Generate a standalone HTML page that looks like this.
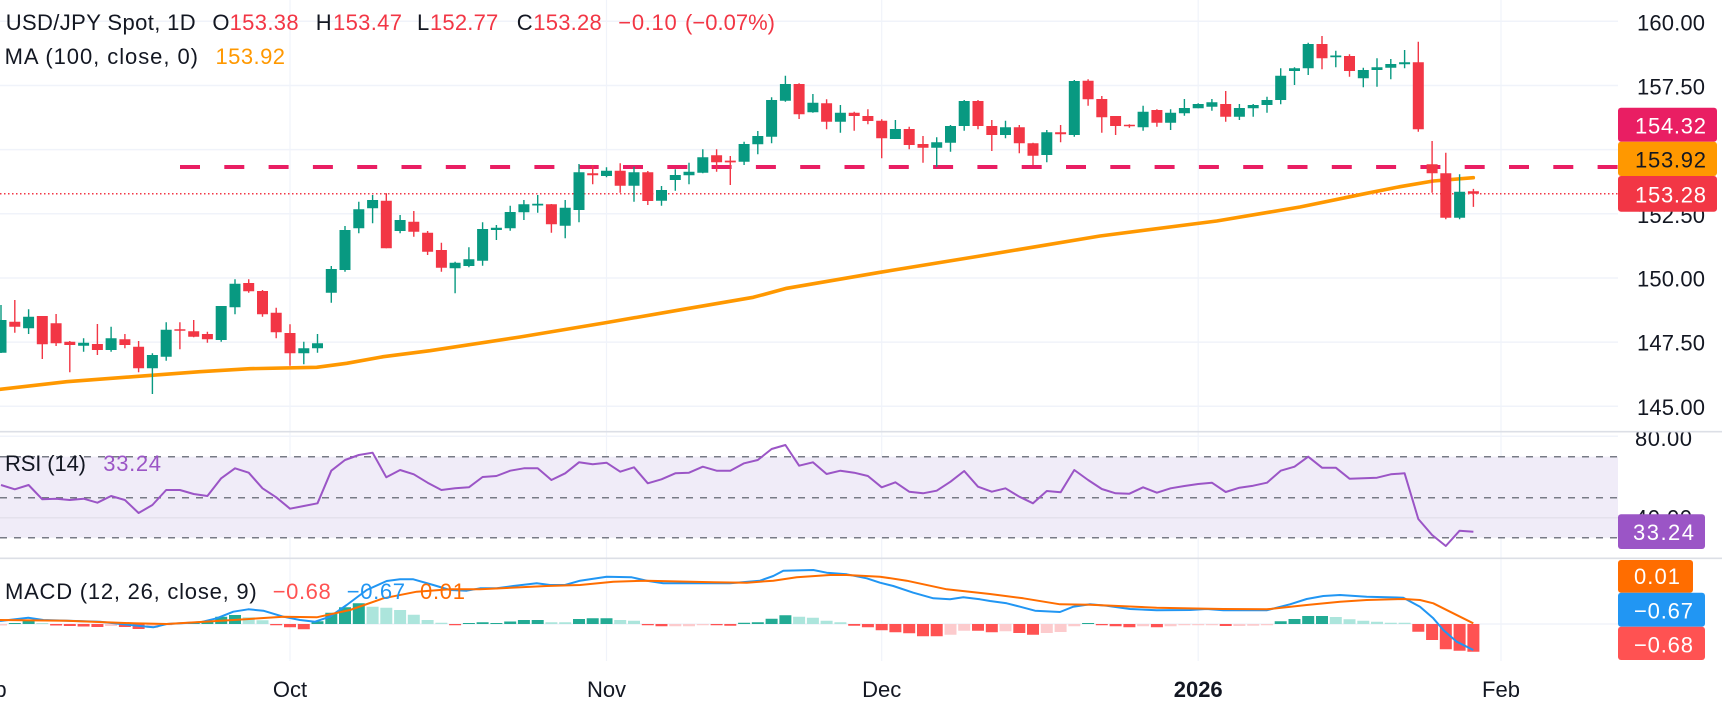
<!DOCTYPE html>
<html><head><meta charset="utf-8"><style>
html,body{margin:0;padding:0;background:#fff;}
svg{display:block;font-family:"Liberation Sans",sans-serif;}
</style></head><body>
<svg width="1722" height="708" viewBox="0 0 1722 708" xmlns="http://www.w3.org/2000/svg">
<defs>
<clipPath id="plot"><rect x="0" y="0" width="1618" height="431"/></clipPath>
<clipPath id="rsiax"><rect x="1618" y="432.5" width="104" height="125"/></clipPath>
</defs>
<rect width="1722" height="708" fill="#fff"/>
<!-- vertical gridlines -->
<g stroke="#f0f3fa" stroke-width="1.2">
<line x1="290" y1="0" x2="290" y2="661"/><line x1="606.5" y1="0" x2="606.5" y2="661"/><line x1="881.7" y1="0" x2="881.7" y2="661"/><line x1="1198.2" y1="0" x2="1198.2" y2="661"/><line x1="1501" y1="0" x2="1501" y2="661"/>
</g>
<!-- horizontal gridlines main -->
<g stroke="#f0f3fa" stroke-width="1.5">
<line x1="0" y1="21.3" x2="1618" y2="21.3"/><line x1="0" y1="85.5" x2="1618" y2="85.5"/><line x1="0" y1="149.6" x2="1618" y2="149.6"/><line x1="0" y1="213.8" x2="1618" y2="213.8"/><line x1="0" y1="278" x2="1618" y2="278"/><line x1="0" y1="342.1" x2="1618" y2="342.1"/><line x1="0" y1="406.3" x2="1618" y2="406.3"/>
<line x1="0" y1="436.2" x2="1618" y2="436.2"/><line x1="0" y1="624" x2="1618" y2="624"/>
</g>
<!-- RSI band -->
<rect x="0" y="456.7" width="1618" height="81" fill="#f0ecf8"/>
<line x1="0" y1="517.7" x2="1618" y2="517.7" stroke="#e4e1ec" stroke-width="1.5"/>
<g stroke="#787b86" stroke-width="1.5" stroke-dasharray="7 7">
<line x1="0" y1="456.7" x2="1618" y2="456.7"/><line x1="0" y1="497.7" x2="1618" y2="497.7"/><line x1="0" y1="537.7" x2="1618" y2="537.7"/>
</g>
<!-- pane separators -->
<line x1="0" y1="431.7" x2="1722" y2="431.7" stroke="#dcdfe6" stroke-width="1.6"/>
<line x1="0" y1="558.3" x2="1722" y2="558.3" stroke="#dcdfe6" stroke-width="1.6"/>

<g clip-path="url(#plot)">
<!-- horizontal lines -->
<line x1="180" y1="167" x2="1618" y2="167" stroke="#e91e63" stroke-width="4" stroke-dasharray="20 24.3"/>
<line x1="0" y1="193.8" x2="1618" y2="193.8" stroke="#f23645" stroke-width="1.5" stroke-dasharray="1.5 2.5"/>
<!-- MA -->
<polyline fill="none" stroke="#ff9800" stroke-width="3.6" stroke-linejoin="round" stroke-linecap="round" points="0,389.3 66.7,381.7 133.3,376.7 200,371.7 250,368.7 316.7,367.3 346.7,363.3 383.3,356.7 430,350.7 520,337 604,323 683.3,309.3 753.3,297.3 786.7,288.3 880,272.3 980,256 1100,236 1216.7,221 1300,207 1366.7,193.3 1400,186.7 1433.3,181 1473.3,177.7"/>
<!-- green candles -->
<path fill="none" stroke="#089981" stroke-width="1.4" d="M1 305V353M28.6 309.3V334M83.6 338.3V351.7M111.1 326.7V351.7M152.4 353.3V394M166.2 322.3V360.7M221.2 306V341.7M235 279.3V314.3M303.8 341.7V364.3M317.5 334V352.7M331.3 266V302.7M345 226V271.7M358.8 201.7V233.3M372.6 195V223.3M400.1 215V233.3M455.1 261.7V293.3M468.9 247.3V267.3M482.6 222.3V265.7M496.4 225V240M510.2 205.7V230.7M523.9 200V220M537.7 195V212.7M565.2 200V238.3M579 164V222.3M606.5 167.3V177.3M634 166.7V201.7M661.5 186V205.7M675.3 169.3V190.7M689 162.7V184.3M702.8 149.3V173.3M744.1 141.7V165M757.8 131V154.3M771.6 97.3V143.3M785.4 75.7V101.7M812.9 94V112.7M840.4 105V132.7M895.4 120V139M936.7 137.3V166.7M950.5 125V151.7M964.2 100V130.7M1005.5 120.7V138.3M1046.8 130V162.3M1074.3 80V136.7M1143.1 105.7V130.7M1170.6 109.3V130M1184.4 99V115.7M1198.2 103.3V108.3M1211.9 99V110.7M1239.4 104V120M1253.2 104V116.7M1267 96.7V112.7M1280.7 68.3V104.3M1294.5 67.3V85M1308.2 42.7V75M1335.8 50.7V67.3M1363.3 67.7V87.3M1377 58.3V86.7M1390.8 59V79.3M1404.6 50V68.3M1459.6 174.3V219.3"/>
<path fill="#089981" d="M-4.5 320h11V352.7h-11zM23.1 316.7h11V328.3h-11zM78.1 342.7h11V345.7h-11zM105.6 338.3h11V350h-11zM146.9 355h11V368.3h-11zM160.7 329.7h11V356.7h-11zM215.7 306h11V340h-11zM229.5 283.7h11V307.3h-11zM298.3 348.3h11V353.3h-11zM312 343.3h11V348.3h-11zM325.8 269h11V292.7h-11zM339.5 230h11V270h-11zM353.3 209.3h11V228.3h-11zM367.1 200h11V208.3h-11zM394.6 220h11V231h-11zM449.6 262.7h11V268.3h-11zM463.4 259.3h11V266h-11zM477.1 229h11V260.7h-11zM490.9 227.7h11V230h-11zM504.7 212h11V228.3h-11zM518.4 204.3h11V212.3h-11zM532.2 203.8h11V205.5h-11zM559.7 207.7h11V225.7h-11zM573.5 172.3h11V210h-11zM601 170.7h11V176h-11zM628.5 172.3h11V185.7h-11zM656 190h11V200.7h-11zM669.8 175h11V180h-11zM683.5 171.7h11V175.3h-11zM697.3 157.3h11V172.7h-11zM738.6 144h11V161.7h-11zM752.3 136h11V144.3h-11zM766.1 100h11V136.7h-11zM779.9 84h11V100.7h-11zM807.4 102.7h11V112.3h-11zM834.9 112.7h11V121.7h-11zM889.9 129h11V139h-11zM931.2 142.3h11V147.7h-11zM945 126h11V142.7h-11zM958.7 101h11V126h-11zM1000 127.3h11V135h-11zM1041.3 132.3h11V155h-11zM1068.8 81h11V135h-11zM1137.6 111.7h11V127.3h-11zM1165.1 112.7h11V122.7h-11zM1178.9 108h11V113.3h-11zM1192.7 104h11V108.3h-11zM1206.4 102.3h11V106.7h-11zM1233.9 108h11V116.7h-11zM1247.7 105h11V108.3h-11zM1261.5 100h11V105h-11zM1275.2 75.7h11V100h-11zM1289 68.3h11V71h-11zM1302.7 44h11V68.3h-11zM1330.3 55.5h11V57.2h-11zM1357.8 70h11V78.3h-11zM1371.5 67.3h11V70h-11zM1385.3 64h11V67.7h-11zM1399.1 62.3h11V64.3h-11zM1454.1 191.7h11V217.7h-11z"/>
<!-- red candles -->
<path fill="none" stroke="#f23645" stroke-width="1.4" d="M14.8 300V332.7M42.3 316V359M56.1 314V346M69.8 341V372.3M97.4 324V355M124.9 334V348.3M138.6 341V372.3M179.9 322.3V349.3M193.7 320V337.3M207.4 331.7V342.7M248.7 279.3V292.7M262.5 290V316.7M276.2 307.7V338.3M290 324.3V365.7M386.3 193.3V248.3M413.8 211V236.7M427.6 231V255M441.4 242.7V271.7M551.4 204V232.7M592.7 165V184.3M620.2 163.3V192.7M647.8 171V205M716.6 149.3V171.7M730.3 156V185M799.1 83.3V119M826.6 99.3V129.3M854.2 111.7V130.7M867.9 109.3V124.3M881.7 119.3V158.3M909.2 126.7V149.3M923 136V162.7M978 100V129.3M991.8 120V151M1019.3 125V153.3M1033 142.7V165M1060.6 125V142.3M1088.1 79.3V105.7M1101.8 96V132.7M1115.6 116V135M1129.4 124.3V127.7M1156.9 109.3V126.7M1225.7 91V121.7M1322 36V69.3M1349.5 54.3V76.7M1418.3 41.7V131.7M1432.1 141V192.7M1445.8 152.7V219.3M1473.4 188.9V206.9"/>
<path fill="#f23645" d="M9.3 321.7h11V326.7h-11zM36.8 316h11V344.3h-11zM50.6 323.3h11V343.3h-11zM64.3 341.7h11V345h-11zM91.9 344h11V350h-11zM119.4 339.3h11V345h-11zM133.1 346.7h11V368.3h-11zM174.4 329.2h11V330.8h-11zM188.2 331.3h11V336.7h-11zM201.9 334h11V339.3h-11zM243.2 283h11V291.3h-11zM257 291h11V314.3h-11zM270.7 312.7h11V332.3h-11zM284.5 333h11V353.3h-11zM380.8 200.7h11V248.3h-11zM408.3 221.7h11V231.7h-11zM422.1 232.7h11V251.7h-11zM435.9 250h11V267.7h-11zM545.9 204.3h11V224.3h-11zM587.2 173.3h11V175.3h-11zM614.7 170.7h11V185.7h-11zM642.3 172.3h11V201h-11zM711.1 155.3h11V162.3h-11zM724.8 160.6h11V162.4h-11zM793.6 84h11V114.3h-11zM821.1 103.3h11V121.7h-11zM848.7 112.7h11V116h-11zM862.4 116h11V121h-11zM876.2 120.7h11V138.3h-11zM903.7 129h11V145h-11zM917.5 144h11V147.7h-11zM972.5 101h11V126h-11zM986.3 126h11V135h-11zM1013.8 127.3h11V143.3h-11zM1027.5 143.3h11V155.7h-11zM1055.1 132.3h11V134.3h-11zM1082.6 80.7h11V99.3h-11zM1096.3 99h11V117.3h-11zM1110.1 116h11V126h-11zM1123.9 124.8h11V126.3h-11zM1151.4 110h11V122.7h-11zM1220.2 104h11V116.7h-11zM1316.5 44h11V58.3h-11zM1344 56h11V71h-11zM1412.8 62.3h11V129.3h-11zM1426.6 164.3h11V173.3h-11zM1440.3 173.3h11V217.7h-11zM1467.9 191.2h11V193.8h-11z"/>
</g>

<!-- RSI line -->
<polyline fill="none" stroke="#9b55c6" stroke-width="2" stroke-linejoin="round" points="1,485 14.8,489.3 28.6,485 42.3,499.3 56.1,498.7 69.8,500 83.6,498.7 97.4,502.7 111.1,496 124.9,500 138.6,513 152.4,505 166.2,490 179.9,490 193.7,494 207.4,496 221.2,478.3 235,468.3 248.7,472.7 262.5,488.3 276.2,497.3 290,508.7 303.8,506 317.5,503.3 331.3,470.7 345,460 358.8,455 372.6,452.7 386.3,477.3 400.1,470 413.8,474.3 427.6,482.7 441.4,490 455.1,488.3 468.9,487.3 482.6,477 496.4,476 510.2,470.7 523.9,468.3 537.7,468.3 551.4,480 565.2,473.3 579,462.3 592.7,464.3 606.5,462.7 620.2,471.7 634,467.3 647.8,483.3 661.5,479.3 675.3,473.3 689,472.7 702.8,466.7 716.6,470.7 730.3,470.7 744.1,463.3 757.8,460 771.6,449 785.4,445 799.1,465.7 812.9,462.3 826.6,474 840.4,470.7 854.2,472.7 867.9,476 881.7,487.3 895.4,482.3 909.2,491.7 923,493.3 936.7,490.7 950.5,481.7 964.2,471 978,486.7 991.8,491.7 1005.5,488.3 1019.3,496.7 1033,503.3 1046.8,491 1060.6,492.3 1074.3,470 1088.1,480 1101.8,489 1115.6,493.3 1129.4,493.7 1143.1,487.3 1156.9,492.7 1170.6,488.3 1184.4,486 1198.2,484 1211.9,482.7 1225.7,492 1239.4,487.7 1253.2,485.7 1267,482.7 1280.7,470.7 1294.5,466.7 1308.2,456.7 1322,467.7 1335.8,467.7 1349.5,478.7 1363.3,478.3 1377,477.7 1390.8,474.3 1404.6,473.3 1418.3,519 1432.1,535 1445.8,546 1459.6,530.7 1473.4,531.7"/>

<!-- MACD histogram -->
<path fill="#22ab94" d="M8.8 623h12v1h-12zM22.6 621h12v3h-12zM173.9 622.8h12v1.2h-12zM187.7 622.8h12v1.2h-12zM201.4 621h12v3h-12zM215.2 616.7h12v7.3h-12zM229 615h12v9h-12zM311.5 621.3h12v2.7h-12zM325.3 612.7h12v11.3h-12zM339 607.3h12v16.7h-12zM352.8 603.3h12v20.7h-12zM462.9 623h12v1h-12zM476.6 622.3h12v1.7h-12zM490.4 623h12v1h-12zM504.2 621.5h12v2.5h-12zM517.9 620h12v4h-12zM531.7 620h12v4h-12zM573 619h12v5h-12zM586.7 618.3h12v5.7h-12zM600.5 618.3h12v5.7h-12zM738.1 622.8h12v1.2h-12zM751.8 622.3h12v1.7h-12zM765.6 618.7h12v5.3h-12zM779.4 615.3h12v8.7h-12zM1082.1 623h12v1h-12zM1274.7 621.3h12v2.7h-12zM1288.5 619h12v5h-12zM1302.2 616h12v8h-12zM1316 616h12v8h-12z"/>
<path fill="#ace5dc" d="M36.3 623h12v1h-12zM242.7 617.3h12v6.7h-12zM256.5 620.3h12v3.7h-12zM366.6 606.7h12v17.3h-12zM380.3 607.7h12v16.3h-12zM394.1 610h12v14h-12zM407.8 614.7h12v9.3h-12zM421.6 620h12v4h-12zM435.4 622.8h12v1.2h-12zM545.4 622.3h12v1.7h-12zM559.2 622.3h12v1.7h-12zM614.2 620h12v4h-12zM628 620.7h12v3.3h-12zM793.1 616.7h12v7.3h-12zM806.9 617.7h12v6.3h-12zM820.6 620.7h12v3.3h-12zM834.4 622.3h12v1.7h-12zM1329.8 617h12v7h-12zM1343.5 619.3h12v4.7h-12zM1357.3 620.7h12v3.3h-12zM1371 621.7h12v2.3h-12zM1384.8 622.7h12v1.3h-12zM1398.6 622.8h12v1.2h-12z"/>
<path fill="#ff5252" d="M50.1 624h12v1.5h-12zM63.8 624h12v2h-12zM77.6 624h12v2.5h-12zM91.4 624h12v3h-12zM118.9 624h12v3h-12zM132.6 624h12v5h-12zM270.2 624h12v1.3h-12zM284 624h12v3.3h-12zM297.8 624h12v5.3h-12zM449.1 624h12v1.2h-12zM641.8 624h12v1.2h-12zM655.5 624h12v2.3h-12zM710.6 624h12v1.3h-12zM724.3 624h12v1.7h-12zM848.2 624h12v1.7h-12zM861.9 624h12v3.3h-12zM875.7 624h12v6.3h-12zM889.4 624h12v8.3h-12zM903.2 624h12v9.3h-12zM917 624h12v12.3h-12zM930.7 624h12v12.3h-12zM972 624h12v6.7h-12zM985.8 624h12v8.3h-12zM1013.3 624h12v9h-12zM1027 624h12v10.7h-12zM1095.8 624h12v1.2h-12zM1109.6 624h12v2.3h-12zM1123.4 624h12v3.3h-12zM1150.9 624h12v3.3h-12zM1219.7 624h12v2h-12zM1412.3 624h12v7.7h-12zM1426.1 624h12v16h-12zM1439.8 624h12v25.3h-12zM1453.6 624h12v26.7h-12zM1467.4 624h12v27.7h-12z"/>
<path fill="#fccbcd" d="M-5 624h12v1.5h-12zM105.1 624h12v2h-12zM146.4 624h12v4h-12zM160.2 624h12v1.2h-12zM669.3 624h12v2.3h-12zM683 624h12v2.3h-12zM696.8 624h12v1.2h-12zM944.5 624h12v10.7h-12zM958.2 624h12v6.7h-12zM999.5 624h12v7.3h-12zM1040.8 624h12v9h-12zM1054.6 624h12v8h-12zM1068.3 624h12v2.3h-12zM1137.1 624h12v2.3h-12zM1164.6 624h12v2.3h-12zM1178.4 624h12v1.2h-12zM1192.2 624h12v1.2h-12zM1205.9 624h12v1.2h-12zM1233.4 624h12v2h-12zM1247.2 624h12v1.7h-12zM1261 624h12v1.2h-12z"/>
<!-- MACD lines -->
<polyline fill="none" stroke="#2196f3" stroke-width="2" stroke-linejoin="round" points="0,621 28.3,617.7 43.3,620 100,621.7 140,626 153.3,627.3 166.7,624 200,622.3 216.7,618.3 233.3,611.7 248.3,609.3 263.3,610.7 283.3,616.7 300,620 315,621.7 330,616.7 346.7,605 366.7,590 386.7,581 400,579.3 413.3,579.3 433.3,585 450,590 466.7,590.7 480,588.3 496.7,588.3 513.3,586 536.7,583.3 550,585 565,585 580,580.7 606.7,576.7 631.7,577.3 646.7,580.7 663.3,583.3 696.7,583.3 730,583.3 760,580.7 773.3,576 783.3,570.7 813.3,570 826.7,572.7 846.7,574.3 866.7,578.3 880,582.7 893.3,586 913.3,592.7 933.3,598.3 950,599.3 963.3,597.3 980,599.3 990,601 1006.7,603.3 1020,606.7 1035,610.7 1060,612 1073.3,606.7 1090,604.3 1106.7,605.7 1130,609 1156.7,610.3 1190,610 1206.7,609 1223.3,610.3 1266.7,610.3 1290,604.3 1306.7,599 1323.3,596 1340,595 1366.7,596.7 1403.3,597.7 1420,606.7 1433.3,618.3 1443.3,630 1456.7,641.7 1473.3,650"/>
<polyline fill="none" stroke="#ff6d00" stroke-width="2" stroke-linejoin="round" points="0,620 66.7,620.7 133.3,623.3 166.7,624 233.3,620 283.3,616.7 316.7,617.3 350,610 383.3,598.3 416.7,591.7 450,589.3 480,589.3 546.7,586 580,585 613.3,581.7 646.7,580.7 713.3,582.3 746.7,582.7 773.3,580.7 796.7,577.3 830,575 846.7,575 880,576.7 906.7,580.7 946.7,589.3 990,594 1023.3,598.3 1060,604.3 1090,604.7 1156.7,607.7 1223.3,609 1266.7,609.3 1306.7,605 1340,601.7 1366.7,600 1403.3,599 1420,600 1433.3,603.3 1450,611.7 1473.3,623.3"/>

<!-- legends -->
<g font-size="22" fill="#131722">
<text x="5.7" y="30" textLength="190">USD/JPY Spot, 1D</text>
<text x="212.4" y="30">O</text><text x="229.6" y="30" fill="#f23645" textLength="69">153.38</text>
<text x="315.7" y="30">H</text><text x="333" y="30" fill="#f23645" textLength="69">153.47</text>
<text x="417" y="30">L</text><text x="430" y="30" fill="#f23645" textLength="68.3">152.77</text>
<text x="516.7" y="30">C</text><text x="533.3" y="30" fill="#f23645" textLength="68.4">153.28</text>
<text x="618.3" y="30" fill="#f23645" textLength="58.4">−0.10</text>
<text x="685" y="30" fill="#f23645" textLength="90">(−0.07%)</text>
<text x="4.6" y="64" textLength="193.4">MA (100, close, 0)</text>
<text x="215.5" y="64" fill="#ff9800" textLength="69.5">153.92</text>
<text x="5" y="471" textLength="81">RSI (14)</text>
<text x="103.3" y="471" fill="#9b55c6" textLength="57.7">33.24</text>
<text x="5" y="599" textLength="251.7">MACD (12, 26, close, 9)</text>
<text x="272.7" y="599" fill="#ff5252" textLength="58">−0.68</text>
<text x="346.7" y="599" fill="#2196f3" textLength="58.3">−0.67</text>
<text x="420" y="599" fill="#ff6d00" textLength="45">0.01</text>
</g>

<!-- price axis -->
<g font-size="22" fill="#131722">
<text x="1637" y="30.5" textLength="68">160.00</text>
<text x="1637" y="94.3" textLength="68">157.50</text>
<text x="1637" y="158.5" textLength="68">155.00</text>
<text x="1637" y="222.8" textLength="68">152.50</text>
<text x="1637" y="286.5" textLength="68">150.00</text>
<text x="1637" y="350.7" textLength="68">147.50</text>
<text x="1637" y="415" textLength="68">145.00</text>
<g clip-path="url(#rsiax)">
<text x="1635" y="446" textLength="57">80.00</text>
<text x="1635" y="525.7" textLength="57">40.00</text>
</g>
</g>
<!-- price boxes -->
<rect x="1618" y="107.7" width="99" height="34" rx="3" fill="#e91e63"/>
<rect x="1618" y="141.7" width="99" height="34.3" rx="3" fill="#ff9800"/>
<rect x="1618" y="176" width="99" height="35.7" rx="3" fill="#f23645"/>
<g font-size="22">
<text x="1635" y="133.3" fill="#fff" textLength="71">154.32</text>
<text x="1635" y="167.7" fill="#131722" textLength="71">153.92</text>
<text x="1635" y="202.7" fill="#fff" textLength="71">153.28</text>
</g>
<!-- RSI box -->
<rect x="1618" y="514.3" width="87" height="34.7" rx="3" fill="#9b55c6"/>
<text x="1633" y="540" font-size="22" fill="#fff" textLength="61">33.24</text>
<!-- MACD boxes -->
<rect x="1618" y="560" width="75" height="32.7" rx="3" fill="#ff6d00"/>
<rect x="1618" y="592.7" width="87" height="34" rx="3" fill="#2196f3"/>
<rect x="1618" y="626.7" width="87" height="33.3" rx="3" fill="#ff5252"/>
<g font-size="22" fill="#fff">
<text x="1634" y="584" textLength="46">0.01</text>
<text x="1634" y="618.3" textLength="59">−0.67</text>
<text x="1634" y="652.3" textLength="59">−0.68</text>
</g>

<!-- time axis -->
<g font-size="22" fill="#131722" text-anchor="middle">
<text x="-13" y="697">Sep</text>
<text x="290" y="697">Oct</text>
<text x="606.5" y="697">Nov</text>
<text x="881.7" y="697">Dec</text>
<text x="1198.2" y="697" font-weight="bold">2026</text>
<text x="1501" y="697">Feb</text>
</g>
</svg>
</body></html>
